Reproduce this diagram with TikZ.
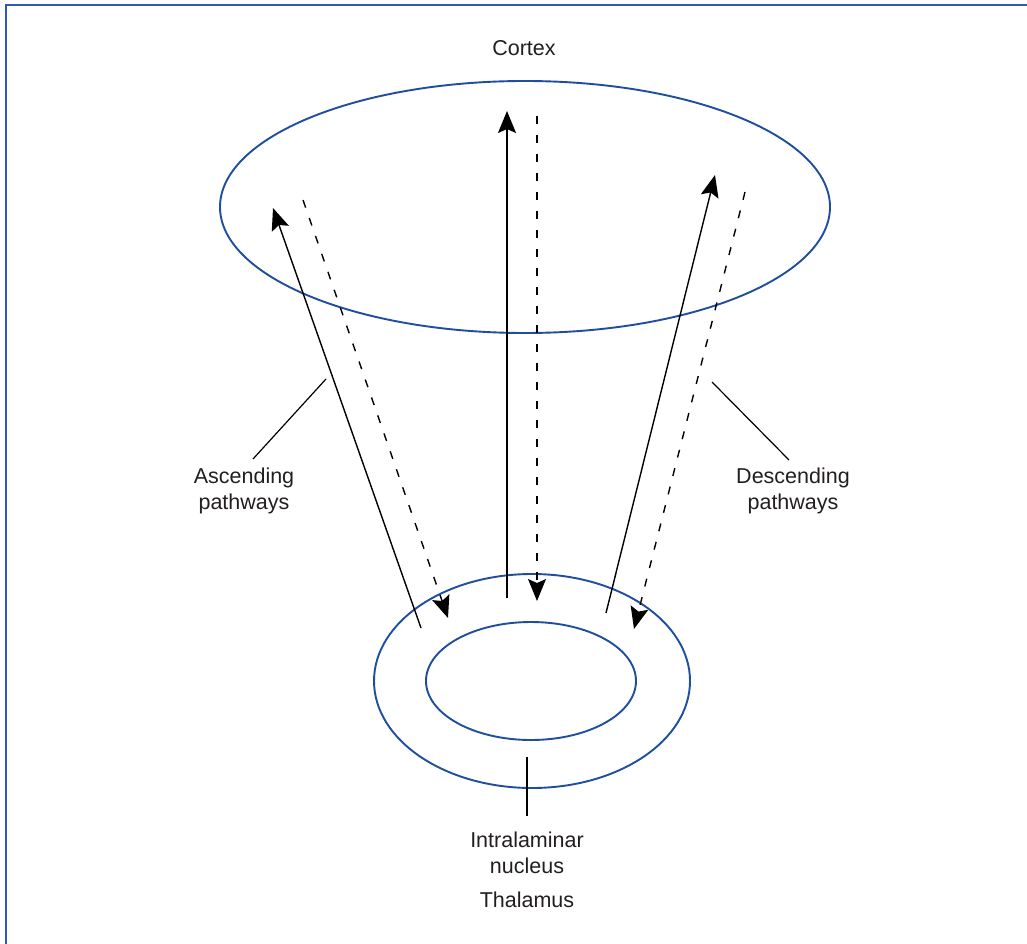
\documentclass[tikz,border=0pt]{standalone}
\usepackage{fontspec}
\setmainfont{Liberation Sans}
\usetikzlibrary{arrows.meta}
\definecolor{frameblue}{HTML}{2F5DAA}
\definecolor{ringblue}{HTML}{1F4E9E}
\definecolor{txt}{HTML}{231F20}
\begin{document}
\begin{tikzpicture}[x=1pt,y=-1pt,
  arrowtip/.style={-{Stealth[length=22pt,width=18pt,inset=4pt]}},
  ring/.style={draw=ringblue,line width=1.9pt},
  solidpath/.style={draw=black,line width=1.4pt,arrowtip},
  dashpath/.style={draw=black,line width=1.4pt,dash pattern=on 8pt off 11pt,arrowtip},
  leader/.style={draw=black,line width=1.2pt},
  lbl/.style={font=\fontsize{21.5}{26}\selectfont,text=txt,align=center,inner sep=0pt}]
\useasboundingbox (0,0) rectangle (1027,944);
\fill[white] (0,0) rectangle (1027,944);
% frame (top and left edges visible)
\draw[frameblue,line width=2.2pt] (6,950) -- (6,5) -- (1035,5);
% ellipses
\draw[ring] (525,207) ellipse [x radius=305, y radius=126];
\draw[ring] (532,681) ellipse [x radius=158, y radius=107];
\draw[ring] (531,681) ellipse [x radius=105, y radius=59];
% arrow end points
\coordinate (ls0) at (421,628); \coordinate (ls1) at (273,208);
\coordinate (ld0) at (303,200); \coordinate (ld1) at (448,618);
\coordinate (ms0) at (507,598); \coordinate (ms1) at (507,111);
\coordinate (md0) at (537,116); \coordinate (md1) at (537,601);
\coordinate (rs0) at (606,613); \coordinate (rs1) at (715,175);
\coordinate (rd0) at (745,192); \coordinate (rd1) at (634,629);
\draw[solidpath] (ls0) -- (ls1);
\draw[dashpath] (ld0) -- (ld1);
\draw[solidpath] (ms0) -- (ms1);
\draw[dashpath] (md0) -- (md1);
\draw[solidpath] (rs0) -- (rs1);
\draw[dashpath] (rd0) -- (rd1);
% labels
\node[lbl] (cortex) at (524,48) {Cortex};
\node[lbl] (asc) at (244,491) {Ascending\\pathways};
\node[lbl] (desc) at (793,491) {Descending\\pathways};
\node[lbl] (intra) at (527,853) {Intralaminar\\nucleus};
\node[lbl] (thal) at (527,900) {Thalamus};
% leader lines
\coordinate (a0) at (326,379); \coordinate (a1) at (253,459);
\coordinate (d0) at (712,382); \coordinate (d1) at (789,460);
\coordinate (t0) at (527,757); \coordinate (t1) at (527,816);
\draw[leader] (a0) -- (a1);
\draw[leader] (d0) -- (d1);
\draw[leader] (t0) -- (t1);
\end{tikzpicture}
\end{document}
